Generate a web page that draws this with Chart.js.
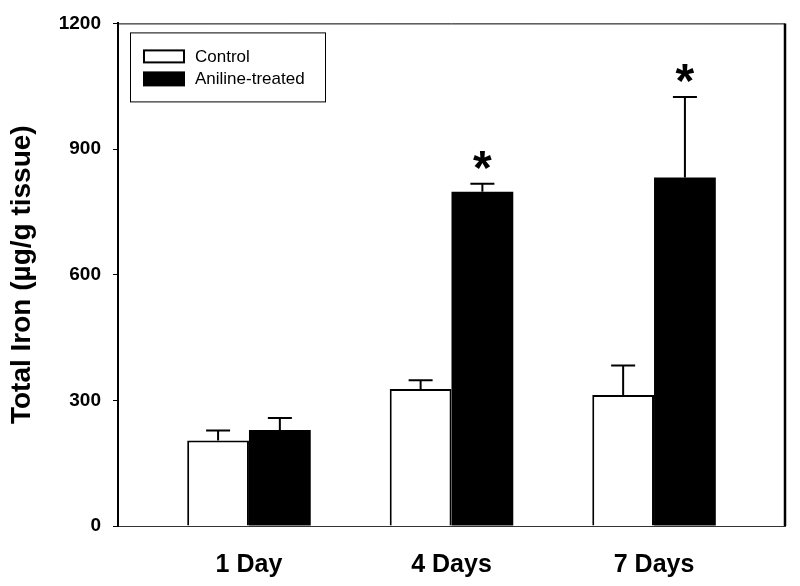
<!DOCTYPE html>
<html><head><meta charset="utf-8">
<script src="https://cdn.jsdelivr.net/npm/chart.js@4.4.0/dist/chart.umd.min.js"></script>
<style>html,body{margin:0;padding:0;background:#fff;}#wrap{width:800px;height:586px;}</style>
</head><body><div id="wrap"><canvas id="c" width="800" height="586"></canvas></div>
<script>
const days = [1, 4, 7];
const tickLabels = ['1 Day', '4 Days', '7 Days'];
const seriesNames = ['Control', 'Aniline-treated'];
const controlMean = [204, 327, 313];
const controlErr = [24, 21, 70];
const anilineMean = [229, 798, 832];
const anilineErr = [29, 19, 192];
const anilineSignificant = [false, true, true];
const yMin = 0, yMax = 1200, yStep = 300;

const FONT = '"Liberation Sans", Arial, Helvetica, sans-serif';

const errorBarPlugin = {
  id: 'errorBars',
  afterDatasetsDraw(chart) {
    const ctx = chart.ctx;
    const yScale = chart.scales.y;
    chart.data.datasets.forEach((ds, i) => {
      const meta = chart.getDatasetMeta(i);
      meta.data.forEach((el, j) => {
        const top = yScale.getPixelForValue(ds.means[j] + ds.errs[j]);
        ctx.save();
        ctx.strokeStyle = '#000';
        ctx.lineWidth = 2;
        ctx.beginPath();
        ctx.moveTo(el.x, el.y);
        ctx.lineTo(el.x, top);
        ctx.moveTo(el.x - 12, top);
        ctx.lineTo(el.x + 12, top);
        ctx.stroke();
        if (ds.significant && ds.significant[j]) {
          ctx.font = 'bold 48px ' + FONT;
          ctx.fillStyle = '#000';
          ctx.textAlign = 'center';
          ctx.textBaseline = 'alphabetic';
          const m = ctx.measureText('*');
          const cy = top - 24;
          ctx.fillText('*', el.x, cy + (m.actualBoundingBoxAscent - m.actualBoundingBoxDescent) / 2);
        }
        ctx.restore();
      });
    });
  }
};

const framePlugin = {
  id: 'frame',
  afterDraw(chart) {
    const ctx = chart.ctx;
    const a = chart.chartArea;
    ctx.save();
    ctx.strokeStyle = '#000';
    ctx.lineWidth = 1;
    ctx.beginPath();
    ctx.moveTo(a.left, a.top + 0.5);
    ctx.lineTo(a.right, a.top + 0.5);
    ctx.stroke();
    ctx.lineWidth = 2.5;
    ctx.beginPath();
    ctx.moveTo(a.right, a.top);
    ctx.lineTo(a.right, a.bottom);
    ctx.stroke();
    // legend
    const lx = a.left + 12, ly = a.top + 9;
    ctx.lineWidth = 1;
    ctx.strokeRect(lx + 0.5, ly + 0.5, 195, 69);
    ctx.font = '17px ' + FONT;
    ctx.textBaseline = 'middle';
    ctx.textAlign = 'left';
    chart.data.datasets.forEach((ds, i) => {
      const sy = ly + 17 + i * 22;
      if (ds.backgroundColor === '#ffffff') {
        ctx.fillStyle = '#fff';
        ctx.fillRect(lx + 13, sy, 42, 14);
        ctx.lineWidth = 2;
        ctx.strokeRect(lx + 14, sy + 1, 40, 12);
      } else {
        ctx.fillStyle = '#000';
        ctx.fillRect(lx + 13, sy, 42, 15);
      }
      ctx.fillStyle = '#000';
      ctx.fillText(ds.label, lx + 65, sy + 7.5);
    });
    ctx.restore();
  }
};

new Chart(document.getElementById('c'), {
  type: 'bar',
  data: {
    datasets: [
      {
        label: seriesNames[0],
        data: days.map((d, i) => ({ x: d, y: controlMean[i] })),
        means: controlMean, errs: controlErr,
        backgroundColor: '#ffffff', borderColor: '#000', borderWidth: 2
      },
      {
        label: seriesNames[1],
        data: days.map((d, i) => ({ x: d, y: anilineMean[i] })),
        means: anilineMean, errs: anilineErr, significant: anilineSignificant,
        backgroundColor: '#000000', borderColor: '#000', borderWidth: 0
      }
    ]
  },
  options: {
    responsive: false,
    animation: false,
    devicePixelRatio: 1,
    categoryPercentage: 0.61,
    barPercentage: 1.0,
    layout: { padding: { left: 0, right: 15, top: 20, bottom: 0 } },
    plugins: { legend: { display: false }, tooltip: { enabled: false } },
    scales: {
      x: {
        type: 'linear',
        offset: false,
        min: -0.94, max: 8.94,
        afterBuildTicks(scale) { scale.ticks = days.map(v => ({ value: v })); },
        afterFit(scale) { scale.height = 60; },
        grid: { display: false, drawTicks: false, offset: false },
        border: { display: true, color: '#333', width: 1 },
        ticks: {
          autoSkip: false, maxRotation: 0, padding: 24,
          color: '#000', font: { family: FONT, size: 25, weight: 'bold' },
          callback: (v) => { const k = days.indexOf(v); return k >= 0 ? tickLabels[k] : ''; }
        }
      },
      y: {
        min: yMin, max: yMax,
        afterFit(scale) { scale.width = 118; },
        grid: { drawOnChartArea: false, drawTicks: true, tickLength: 5, color: '#000', lineWidth: 1 },
        border: { display: true, color: '#000', width: 2 },
        ticks: {
          stepSize: yStep, padding: 12, color: '#000',
          font: { family: FONT, size: 19, weight: 'bold' },
          callback: (v) => String(v)
        },
        title: {
          display: true, text: 'Total Iron (µg/g tissue)', color: '#000',
          font: { family: FONT, size: 28, weight: 'bold' },
          padding: { top: 5, bottom: 0 }
        }
      }
    }
  },
  plugins: [errorBarPlugin, framePlugin]
});
</script></body></html>
